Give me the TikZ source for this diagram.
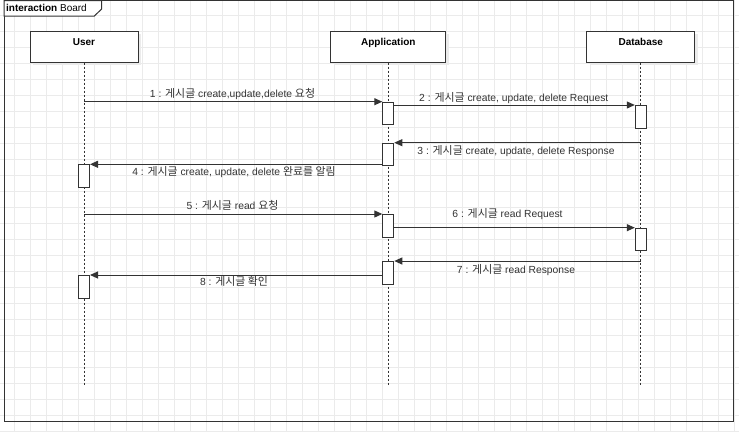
\documentclass[tikz,border=0pt]{standalone}
\usepackage{fontspec}
\setmainfont{Liberation Sans}
\newfontfamily\krfont[Scale=1.06]{Noto Sans CJK KR}
\newcommand{\ko}[1]{{\krfont #1}}
\usetikzlibrary{arrows.meta,shadows}
\definecolor{linegray}{HTML}{333333}
\definecolor{gridgray}{HTML}{EBEBEB}

\tikzset{
  gridline/.style={gridgray, line width=1pt},
  headbox/.style={draw=linegray, fill=white, line width=1pt, minimum height=31pt, inner sep=0pt,
    font=\fontsize{10}{12}\selectfont\bfseries, text height=7pt, text depth=10pt,
    drop shadow={shadow xshift=3pt, shadow yshift=-3pt, fill=black!8, opacity=1}},
  actbox/.style={draw=linegray, fill=white, line width=1pt, minimum width=11pt, minimum height=22.5pt, inner sep=0pt, anchor=north},
  lifeline/.style={linegray, line width=1pt, dash pattern=on 2pt off 2pt},
  msg/.style={linegray, line width=1pt, -{Triangle[length=8pt,width=7pt]}},
  msglabel/.style={font=\fontsize{10.3}{12}\selectfont, text=linegray, anchor=base, inner sep=0pt},
}

\begin{document}
\begin{tikzpicture}[x=1pt, y=-1pt]
\useasboundingbox (0,0) rectangle (739,432);
\fill[white] (0,0) rectangle (739,432);

% background grid
\foreach \i in {0,...,45} \draw[gridline] (14.7+16*\i,0) -- (14.7+16*\i,432);
\foreach \j in {0,...,26} \draw[gridline] (0,15.3+16*\j) -- (739,15.3+16*\j);

% frame
\draw[linegray, line width=1pt] (4,0.5) rectangle (733.5,421);
\draw[linegray, line width=1pt, fill=white] (4,0.5) -- (4,16) -- (94.3,16) -- (101.7,9) -- (101.7,0.5) -- cycle;
\node[anchor=base west, inner sep=0pt, font=\fontsize{10}{12}\selectfont] (title) at (6,11) {\textbf{interaction} Board};

% lifelines
\node[headbox, minimum width=108pt] (user) at (84,46.5) {User};
\node[headbox, minimum width=115pt] (app) at (388.3,46.5) {Application};
\node[headbox, minimum width=108pt] (db) at (640.8,46.5) {Database};

\coordinate (bottom) at (0,386);
\draw[lifeline] (user.south) -- (user.south |- bottom);
\draw[lifeline] (app.south) -- (app.south |- bottom);
\draw[lifeline] (db.south) -- (db.south |- bottom);

% activations
\node[actbox] (a1) at (app.south |- 0,101.7) {};
\node[actbox] (d1) at (db.south |- 0,105) {};
\node[actbox] (a2) at (app.south |- 0,142.7) {};
\node[actbox] (u1) at (user.south |- 0,164.3) {};
\node[actbox] (a3) at (app.south |- 0,214) {};
\node[actbox] (d2) at (db.south |- 0,227.7) {};
\node[actbox] (a4) at (app.south |- 0,261) {};
\node[actbox] (u2) at (user.south |- 0,275) {};

% messages
\draw[msg] (a1.north west -| user.south) -- (a1.north west);
\draw[msg] (a1.east |- d1.north) -- (d1.north west);
\draw[msg] (a2.north east -| db.south) -- (a2.north east);
\draw[msg] (a2.west |- u1.north) -- (u1.north east);
\draw[msg] (a3.north west -| user.south) -- (a3.north west);
\draw[msg] (a3.east |- d2.north) -- (d2.north west);
\draw[msg] (a4.north east -| db.south) -- (a4.north east);
\draw[msg] (a4.west |- u2.north) -- (u2.north east);

\node[msglabel] (l1) at (232.5,97.5) {1 : \ko{게시글} create,update,delete \ko{요청}};
\node[msglabel] (l2) at (513.8,101) {2 : \ko{게시글} create, update, delete Request};
\node[msglabel] (l3) at (516,154) {3 : \ko{게시글} create, update, delete Response};
\node[msglabel] (l4) at (234,175.5) {4 : \ko{게시글} create, update, delete \ko{완료를 알림}};
\node[msglabel] (l5) at (232.5,209) {5 : \ko{게시글} read \ko{요청}};
\node[msglabel] (l6) at (507.5,217.5) {6 : \ko{게시글} read Request};
\node[msglabel] (l7) at (516,273.5) {7 : \ko{게시글} read Response};
\node[msglabel] (l8) at (234,285.5) {8 : \ko{게시글 확인}};

\end{tikzpicture}
\end{document}
